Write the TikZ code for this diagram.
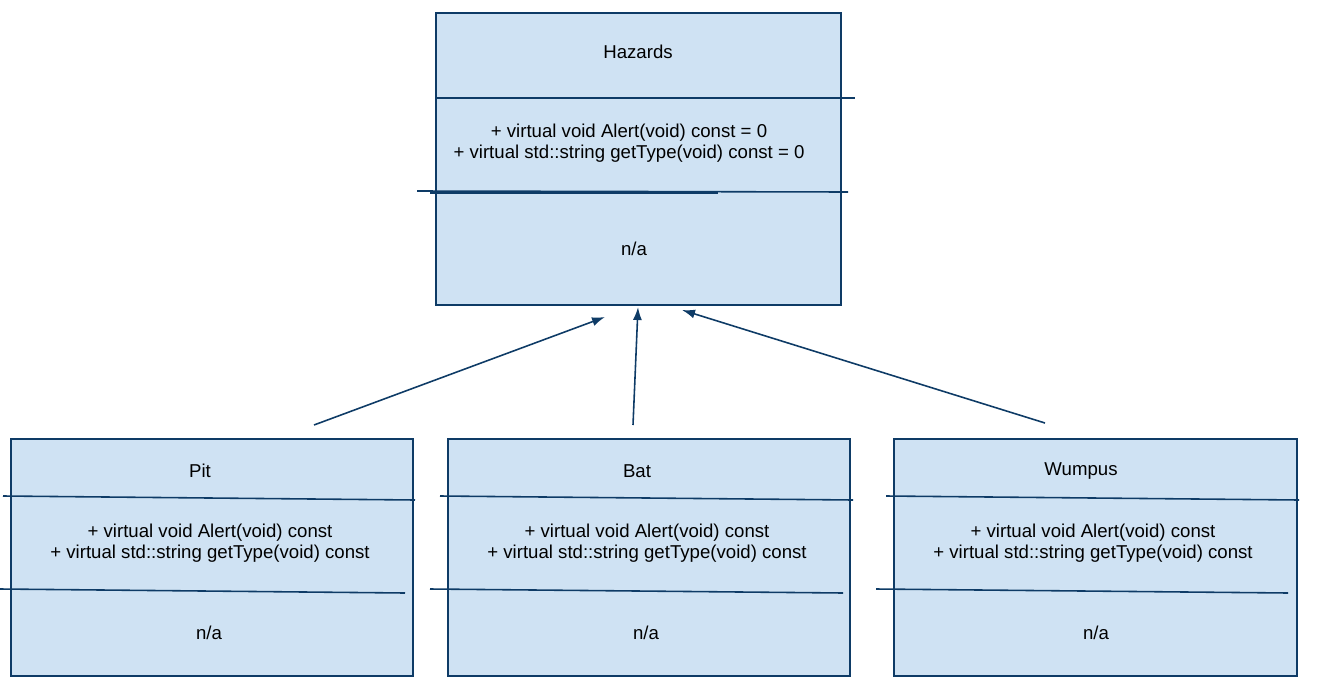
\documentclass[tikz,border=0pt]{standalone}
\usepackage{fontspec}
\setmainfont{Liberation Sans}
\usetikzlibrary{arrows.meta, positioning}
\tikzset{>={Latex[length=2.6mm, width=1.8mm]}}
\definecolor{umlfill}{HTML}{CFE2F3}
\definecolor{umlline}{HTML}{0E3B66}

\begin{document}
\begin{tikzpicture}[
  x=0.02cm, y=-0.02cm,
  classbox/.style={rectangle, draw=umlline, fill=umlfill, line width=0.9pt, inner sep=0pt},
  sepline/.style={umlline, line width=0.9pt},
  inherit/.style={->, umlline, line width=0.9pt},
  labelstyle/.style={font=\fontsize{10.6}{12}\selectfont, align=center}
]

\useasboundingbox (0,0) rectangle (1326,690);

% Base class
\node[classbox, minimum width=8.1cm, minimum height=5.84cm] (haz) at (638.5,159) {};
\node[labelstyle] (hazname) at (638,52) {Hazards};
\node[labelstyle] (hazops) at (629,143) {+ virtual void Alert(void) const = 0\\+ virtual std::string getType(void) const = 0};
\node[labelstyle] (hazattr) at (634,249) {n/a};
\draw[sepline] (436,98) -- (855,98);
\draw[sepline] (417,191) -- (848,192);
\draw[sepline] (430,193) -- (718,193);

% Derived classes
\node[classbox, minimum width=8.04cm, minimum height=4.74cm] (pit) at (212,557.5) {};
\node[labelstyle] (pitname) at (200,471) {Pit};
\node[labelstyle] (pitops) at (210,543) {+ virtual void Alert(void) const\\+ virtual std::string getType(void) const};
\node[labelstyle] (pitattr) at (209,633) {n/a};
\draw[sepline] (3,496) -- (415,500);
\draw[sepline] (0,589) -- (405,593);

\node[classbox, minimum width=8.04cm, minimum height=4.74cm] (bat) at (649,557.5) {};
\node[labelstyle] (batname) at (637,471) {Bat};
\node[labelstyle] (batops) at (647,543) {+ virtual void Alert(void) const\\+ virtual std::string getType(void) const};
\node[labelstyle] (batattr) at (646,633) {n/a};
\draw[sepline] (440,496) -- (853,500);
\draw[sepline] (430,589) -- (843,593);

\node[classbox, minimum width=8.06cm, minimum height=4.74cm] (wum) at (1095.5,557.5) {};
\node[labelstyle] (wumname) at (1081,471) {Wumpus};
\node[labelstyle] (wumops) at (1093,543) {+ virtual void Alert(void) const\\+ virtual std::string getType(void) const};
\node[labelstyle] (wumattr) at (1096,633) {n/a};
\draw[sepline] (886,496) -- (1299,500);
\draw[sepline] (876,589) -- (1288,593);

% Inheritance arrows
\coordinate (pitfoot) at (314,425);
\coordinate (pittip) at (605,317);
\coordinate (batfoot) at (633,425);
\coordinate (battip) at (638,307);
\coordinate (wumfoot) at (1045,423);
\coordinate (wumtip) at (682,310);
\draw[inherit] (pitfoot) -- (pittip);
\draw[inherit] (batfoot) -- (battip);
\draw[inherit] (wumfoot) -- (wumtip);

\end{tikzpicture}
\end{document}
